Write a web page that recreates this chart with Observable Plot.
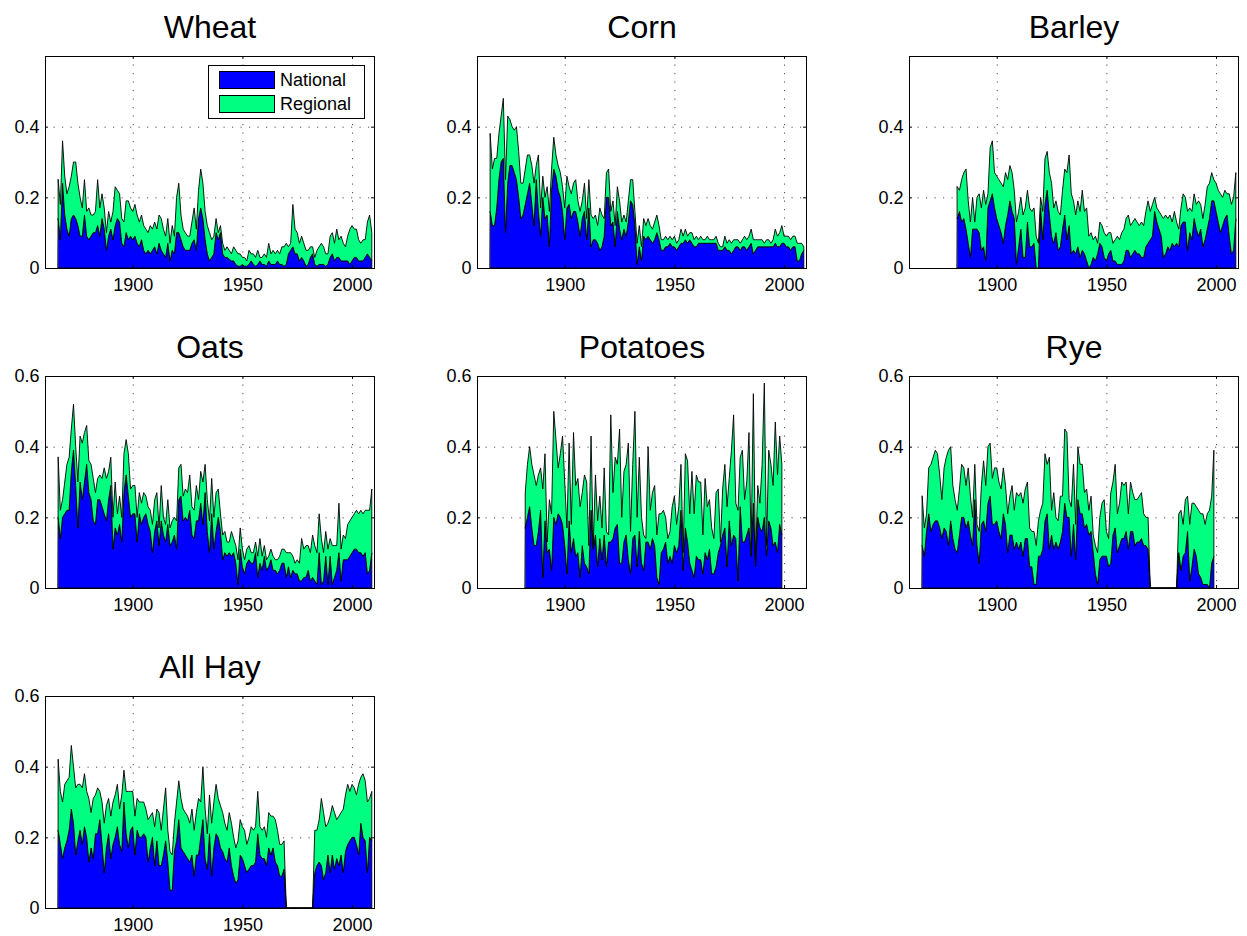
<!DOCTYPE html>
<html><head><meta charset="utf-8">
<script src="https://cdn.jsdelivr.net/npm/d3@7"></script>
<script src="https://cdn.jsdelivr.net/npm/@observablehq/plot@0.6"></script>
<style>
html,body{margin:0;padding:0;background:#fff;overflow:hidden;}
#chart{position:relative;width:1247px;height:936px;overflow:hidden;font-family:"Liberation Sans",Arial,Helvetica,sans-serif;}
.panel{position:absolute;}
.legend{position:absolute;background:#fff;border:1px solid #000;box-sizing:border-box;}
.legend .sw{position:absolute;border:1px solid #000;box-sizing:border-box;}
.legend .lb{position:absolute;font-size:18px;line-height:18px;color:#000;white-space:nowrap;}
</style></head>
<body><div id="chart"></div>
<script>
// ---------- series / categories ----------
const seriesNames = ["National", "Regional"];
const seriesColors = ["#0000ff", "#00ff80"];
const crops = ["Wheat", "Corn", "Barley", "Oats", "Potatoes", "Rye", "All Hay"];
const xTicks = [1900, 1950, 2000];
const yTicksTop = [0, 0.2, 0.4];
const yTicksLower = [0, 0.2, 0.4, 0.6];

// ---------- data ----------
const wheatStart = 1866;
const wheatNational = [
.14,.08,.24,.15,.11,.09,.14,.15,.14,.12,
.09,.09,.15,.09,.08,.09,.10,.10,.12,.09,
.14,.11,.05,.09,.11,.08,.12,.14,.13,.07,
.06,.10,.08,.09,.08,.09,.07,.06,.08,.05,
.04,.05,.04,.05,.06,.04,.07,.05,.04,.03,
.07,.02,.05,.04,.10,.10,.08,.06,.05,.05,
.05,.07,.08,.05,.14,.17,.14,.08,.04,.02,
.03,.04,.10,.08,.10,.04,.03,.03,.025,.02,
.02,.01,.005,.005,.01,.005,.005,.01,.02,.01,
.005,.01,.02,.01,.01,.005,.02,.01,.01,.01,
.02,.01,.01,.005,.01,.04,.05,.06,.04,.04,
.02,.03,.02,.005,.01,.03,.04,.01,.005,.01,
.01,.01,.005,.01,.03,.04,.02,.03,.03,.02,
.02,.02,.02,.01,.02,.03,.03,.02,.02,.02,
.03,.04,.03,.02];
const wheatRegional = [
.11,.10,.12,.11,.10,.14,.12,.15,.16,.12,
.11,.08,.10,.07,.09,.06,.05,.06,.13,.08,
.07,.06,.05,.07,.02,.08,.11,.08,.08,.07,
.07,.09,.11,.08,.08,.09,.08,.07,.07,.07,
.07,.05,.08,.06,.07,.07,.08,.09,.07,.06,
.07,.05,.07,.05,.10,.14,.07,.05,.05,.04,
.04,.06,.09,.06,.08,.11,.10,.08,.08,.08,
.05,.05,.04,.02,.02,.03,.02,.03,.025,.02,
.04,.04,.035,.035,.02,.025,.015,.04,.02,.03,
.025,.04,.01,.02,.03,.025,.05,.03,.04,.03,
.03,.03,.05,.055,.06,.02,.02,.12,.07,.06,
.05,.06,.05,.045,.04,.03,.02,.02,.045,.05,
.06,.05,.035,.03,.06,.06,.05,.08,.05,.07,
.05,.04,.07,.10,.10,.08,.08,.06,.05,.06,
.05,.09,.12,.08];

const cornStart = 1866;
const cornNational = [
.16,.12,.12,.17,.25,.30,.31,.10,.24,.29,
.29,.27,.25,.20,.14,.15,.18,.21,.24,.18,
.12,.25,.16,.09,.20,.14,.15,.06,.22,.28,
.26,.22,.20,.16,.08,.17,.18,.14,.16,.16,
.13,.09,.14,.16,.08,.17,.06,.08,.08,.07,
.05,.06,.09,.20,.20,.12,.13,.06,.16,.11,
.08,.11,.09,.13,.19,.18,.12,.01,.06,.02,
.09,.08,.09,.08,.07,.08,.10,.08,.05,.05,
.06,.06,.07,.06,.06,.05,.06,.07,.07,.08,
.07,.08,.07,.06,.06,.07,.07,.07,.07,.07,
.07,.07,.07,.07,.05,.05,.05,.06,.05,.05,
.04,.05,.06,.06,.05,.06,.06,.05,.06,.07,
.04,.05,.06,.06,.06,.06,.06,.06,.06,.06,
.07,.06,.06,.07,.07,.06,.06,.05,.06,.06,
.02,.02,.04,.05];
const cornRegional = [
.22,.16,.19,.14,.13,.13,.17,.15,.19,.13,
.11,.12,.15,.13,.10,.09,.10,.11,.08,.11,
.12,.04,.16,.08,.06,.06,.08,.10,.06,.09,
.06,.07,.07,.07,.09,.09,.05,.07,.08,.09,
.06,.07,.05,.08,.06,.08,.09,.06,.07,.05,
.12,.09,.05,.07,.08,.04,.06,.06,.07,.08,
.05,.04,.04,.06,.06,.07,.04,.06,.06,.04,
.05,.04,.05,.04,.04,.05,.05,.04,.03,.03,
.03,.02,.02,.02,.03,.02,.02,.04,.02,.03,
.02,.02,.03,.02,.03,.01,.02,.01,.01,.02,
.01,.01,.01,.02,.02,.01,.01,.03,.02,.03,
.03,.03,.02,.02,.02,.02,.03,.03,.03,.04,
.04,.03,.02,.02,.02,.01,.02,.02,.01,.02,
.04,.03,.04,.05,.02,.03,.03,.03,.03,.03,
.05,.05,.03,.01];

const barleyStart = 1882;
const barleyNational = [
.14,.16,.13,.14,.11,.07,.03,.11,.11,.11,
.10,.05,.06,.02,.17,.19,.21,.17,.14,.12,
.10,.07,.12,.15,.19,.16,.14,.01,.06,.11,
.03,.03,.13,.06,.06,.07,0,0,.17,.08,
.18,.22,.15,.09,.07,.10,.05,.06,.11,.15,
.08,.12,.04,.05,.04,.06,.03,.05,.04,.02,
0,.01,.03,.02,.04,.07,.06,.03,.02,.04,
.05,.02,.02,.01,.01,.01,.02,.05,.05,.03,
.04,.05,.04,.04,.03,.03,.06,.07,.08,.09,
.16,.13,.11,.09,.03,.04,.06,.05,.07,.06,
.07,.06,.12,.13,.13,.05,.10,.08,.14,.11,
.09,.11,.06,.08,.11,.14,.19,.19,.16,.13,
.10,.12,.14,.15,.09,.04,.05,.14];
const barleyRegional = [
.09,.06,.12,.13,.17,.12,.10,.09,.02,.09,
.11,.12,.16,.16,.04,.15,.15,.10,.12,.13,
.14,.16,.15,.10,.10,.11,.08,.12,.10,.09,
.12,.14,.09,.11,.10,.10,.09,.07,.03,.08,
.13,.11,.12,.15,.10,.09,.11,.09,.11,.13,
.19,.20,.17,.14,.11,.13,.13,.17,.12,.15,
.09,.09,.05,.07,.03,.06,.06,.07,.07,.06,
.05,.05,.06,.08,.07,.09,.09,.09,.10,.09,
.09,.09,.09,.08,.10,.09,.10,.12,.08,.09,
.04,.04,.05,.06,.11,.11,.08,.10,.06,.10,
.06,.05,.05,.08,.07,.11,.07,.08,.07,.07,
.10,.07,.08,.10,.12,.10,.08,.06,.08,.09,
.11,.08,.08,.06,.12,.14,.15,.13];

const oatsStart = 1866;
const oatsNational = [
.20,.14,.20,.21,.22,.22,.33,.39,.29,.17,
.30,.25,.30,.35,.27,.25,.19,.18,.25,.25,
.23,.21,.19,.25,.29,.11,.17,.15,.18,.13,
.27,.32,.26,.20,.21,.21,.13,.21,.18,.20,
.21,.18,.16,.10,.16,.19,.12,.19,.15,.13,
.18,.12,.13,.15,.11,.25,.26,.19,.20,.19,
.22,.15,.14,.19,.19,.24,.18,.27,.16,.10,
.21,.11,.16,.20,.16,.08,.10,.09,.10,.09,
.10,.07,.01,.11,.06,.04,.07,.08,.07,.07,
.10,.03,.07,.05,.09,.05,.06,.08,.05,.05,
.04,.05,.07,.07,.03,.06,.03,.05,.04,.04,
.02,.02,.03,.03,.05,.02,.03,.02,.01,.10,
.01,.02,.09,.01,.09,.01,.03,.05,.10,.02,
.08,.08,.08,.09,.10,.11,.11,.10,.10,.09,
.10,.04,.05,.10];
const oatsRegional = [
.17,.08,.05,.09,.13,.15,.12,.13,.11,.13,
.13,.16,.14,.11,.09,.10,.12,.09,.06,.07,
.08,.13,.12,.08,.08,.09,.13,.06,.08,.07,
.11,.10,.12,.08,.08,.08,.07,.06,.06,.07,
.05,.05,.06,.08,.09,.08,.05,.10,.05,.05,
.07,.05,.06,.05,.08,.09,.09,.07,.08,.08,
.10,.08,.08,.10,.06,.09,.12,.08,.09,.09,
.10,.09,.11,.08,.05,.07,.06,.04,.03,.07,
.04,.05,.07,.06,.05,.04,.04,.04,.03,.03,
.03,.06,.07,.04,.03,.03,.03,.03,.04,.03,
.04,.04,.04,.04,.07,.04,.07,.04,.03,.04,
.05,.12,.08,.09,.07,.08,.12,.10,.09,.11,
.13,.08,.07,.10,.05,.11,.09,.07,.14,.09,
.07,.06,.10,.10,.10,.10,.11,.11,.12,.12,
.12,.18,.17,.18];

const potatoesStart = 1882;
const potatoesNational = [
.17,.20,.23,.17,.12,.12,.16,.22,.03,.19,
.10,.11,.05,.20,.18,.21,.20,.18,.12,.04,
.19,.10,.14,.09,.10,.03,.12,.07,.06,.04,
.22,.11,.15,.06,.14,.08,.15,.06,.13,.13,
.14,.17,.18,.07,.07,.13,.15,.08,.04,.14,
.15,.06,.16,.07,.05,.13,.13,.11,.14,.12,
.03,.01,.10,.11,.13,.07,.09,.07,.12,.10,
.12,.22,.05,.17,.13,.07,.05,.03,.09,.08,
.08,.04,.10,.08,.11,.04,.04,.06,.10,.12,
.15,.17,.06,.19,.12,.15,.14,.02,.23,.13,
.13,.15,.17,.09,.24,.06,.20,.17,.16,.20,
.09,.19,.17,.12,.13,.10,.18,.15];
const potatoesRegional = [
.10,.15,.17,.18,.20,.17,.16,.12,.25,.19,
.03,.14,.16,.30,.24,.13,.18,.25,.18,.13,
.22,.08,.30,.20,.21,.20,.15,.25,.24,.08,
.21,.01,.17,.13,.12,.09,.19,.10,.02,.36,
.13,.20,.17,.38,.13,.20,.20,.33,.12,.21,
.35,.14,.21,.13,.10,.01,.27,.11,.13,.17,
.12,.20,.11,.11,.07,.07,.07,.16,.14,.08,
.11,.13,.05,.21,.23,.14,.28,.18,.23,.22,
.22,.11,.21,.15,.14,.13,.10,.21,.18,.01,
.13,.18,.17,.12,.27,.34,.10,.20,.14,.26,
.12,.15,.27,.03,.31,.02,.09,.07,.19,.38,
.03,.20,.18,.17,.34,.22,.25,.20];

const ryeStart = 1866;
const ryeNational = [
.12,.09,.16,.21,.16,.18,.19,.19,.17,.14,
.17,.16,.12,.19,.14,.11,.10,.15,.20,.20,
.17,.19,.15,.12,.25,.12,.07,.18,.19,.16,
.24,.26,.18,.18,.19,.16,.14,.21,.18,.10,
.15,.15,.11,.13,.11,.13,.09,.14,.14,.06,
.06,.01,.01,.09,.09,.11,.19,.21,.11,.15,
.11,.13,.11,.13,.16,.24,.20,.20,.09,.18,
.08,.25,.21,.21,.17,.18,.15,.16,.10,.04,
.01,.08,.09,.09,.09,.06,.07,.15,.17,.10,
.12,.14,.14,.16,.11,.16,.16,.12,.13,.13,
.14,.12,.12,.11,0,0,0,0,0,0,
0,0,0,0,0,0,0,.10,.05,.09,
.10,.16,.02,.06,.11,.09,.04,.03,.01,.01,
.01,0,.07,.09];
const ryeRegional = [
.14,.08,.05,.13,.19,.19,.20,.19,.15,.11,
.17,.21,.27,.21,.15,.14,.12,.13,.15,.14,
.12,.15,.11,.08,.10,.06,.09,.11,.17,.13,
.16,.15,.13,.16,.15,.14,.14,.13,.11,.11,
.11,.14,.11,.14,.15,.14,.15,.14,.16,.11,
.10,.15,.11,.10,.13,.13,.19,.14,.26,.07,
.16,.07,.08,.13,.10,.21,.24,.05,.14,.17,
.10,.15,.14,.14,.10,.10,.07,.10,.05,.08,
.09,.12,.15,.16,.07,.08,.20,.15,.18,.11,
.12,.16,.15,.14,.10,.14,.11,.13,.12,.13,
.13,.09,.08,.09,0,0,0,0,0,0,
0,0,0,0,0,0,0,.11,.17,.09,
.15,.10,.16,.18,.13,.14,.18,.18,.20,.17,
.20,.22,.19,.30];

const hayStart = 1866;
const hayNational = [
.22,.18,.14,.17,.19,.22,.28,.24,.15,.19,
.22,.18,.23,.20,.13,.17,.14,.21,.21,.25,
.18,.10,.17,.21,.14,.18,.20,.23,.18,.16,
.30,.21,.17,.22,.23,.15,.22,.20,.20,.21,
.20,.13,.17,.20,.12,.19,.12,.12,.15,.19,
.13,.05,.05,.16,.19,.25,.17,.16,.15,.14,
.13,.15,.09,.15,.15,.20,.25,.14,.11,.21,
.09,.17,.21,.20,.17,.16,.14,.13,.17,.12,
.09,.07,.08,.15,.14,.12,.10,.11,.12,.12,
.13,.21,.15,.14,.14,.12,.17,.15,.17,.13,
.12,.09,.09,.11,0,0,0,0,0,0,
0,0,0,0,0,0,0,.10,.12,.13,
.12,.08,.10,.15,.10,.15,.11,.14,.12,.15,
.10,.16,.18,.19,.20,.20,.18,.15,.24,.20,
.19,.10,.20,.19];
const hayRegional = [
.20,.15,.16,.18,.17,.15,.18,.16,.19,.16,
.13,.16,.15,.13,.18,.10,.17,.11,.13,.08,
.12,.14,.12,.10,.12,.12,.12,.12,.10,.16,
.09,.12,.16,.11,.10,.11,.09,.10,.10,.09,
.08,.12,.09,.07,.11,.09,.15,.10,.13,.15,
.09,.11,.10,.08,.11,.11,.14,.12,.12,.12,
.11,.13,.13,.12,.16,.10,.15,.14,.10,.11,
.15,.13,.14,.11,.12,.11,.10,.09,.10,.12,
.11,.10,.11,.10,.09,.10,.08,.09,.11,.10,
.10,.12,.08,.08,.09,.08,.10,.11,.09,.12,
.10,.09,.09,.08,0,0,0,0,0,0,
0,0,0,0,0,0,0,.12,.10,.12,
.19,.19,.13,.09,.16,.14,.16,.11,.14,.12,
.18,.16,.17,.14,.15,.14,.14,.20,.13,.18,
.17,.20,.11,.14];

// ---------- layout ----------
const panels = [
  {title: crops[0], start: wheatStart, nat: wheatNational, reg: wheatRegional, col: 0, row: 0},
  {title: crops[1], start: cornStart, nat: cornNational, reg: cornRegional, col: 1, row: 0},
  {title: crops[2], start: barleyStart, nat: barleyNational, reg: barleyRegional, col: 2, row: 0},
  {title: crops[3], start: oatsStart, nat: oatsNational, reg: oatsRegional, col: 0, row: 1},
  {title: crops[4], start: potatoesStart, nat: potatoesNational, reg: potatoesRegional, col: 1, row: 1},
  {title: crops[5], start: ryeStart, nat: ryeNational, reg: ryeRegional, col: 2, row: 1},
  {title: crops[6], start: hayStart, nat: hayNational, reg: hayRegional, col: 0, row: 2}
];
const axesLeft = [45, 477, 909];
const axesTop = [56, 376, 696];
const W = 329, H = 212;
const mL = 45, mR = 10, mT = 56, mB = 40;
const FONT = '"Liberation Sans", Arial, Helvetica, sans-serif';

function toRows(p) {
  const out = [];
  p.nat.forEach((v, i) => out.push({year: p.start + i, series: seriesNames[0], value: v}));
  p.reg.forEach((v, i) => out.push({year: p.start + i, series: seriesNames[1], value: v}));
  return out;
}

const chart = document.getElementById("chart");
const dotted = {stroke: "#000", strokeOpacity: 0.7, strokeWidth: 1, strokeDasharray: "1.2,7.3"};

panels.forEach(p => {
  const yTicks = p.row === 0 ? yTicksTop : yTicksLower;
  const svg = Plot.plot({
    width: mL + W + mR,
    height: mT + H + mB,
    marginLeft: mL, marginRight: mR, marginTop: mT, marginBottom: mB,
    x: {domain: [1860, 2010]},
    y: {domain: [0, 0.6]},
    color: {domain: seriesNames, range: seriesColors},
    style: {fontFamily: FONT, fontSize: "18px", color: "#000", background: "transparent", overflow: "visible"},
    marks: [
      Plot.gridX({ticks: xTicks, ...dotted}),
      Plot.gridY({ticks: yTicks, ...dotted}),
      Plot.areaY(toRows(p), {x: "year", y: "value", z: "series", fill: "series",
        stroke: "#000", strokeWidth: 0.9, fillOpacity: 1, strokeOpacity: 1}),
      Plot.ruleX(xTicks, {insetTop: H - 3, stroke: "#000"}),
      Plot.ruleX(xTicks, {insetBottom: H - 3, stroke: "#000"}),
      Plot.ruleY(yTicks, {insetRight: W - 3, stroke: "#000"}),
      Plot.ruleY(yTicks, {insetLeft: W - 3, stroke: "#000"}),
      Plot.frame({stroke: "#000", strokeWidth: 1}),
      Plot.axisX({ticks: xTicks, tickSize: 0, tickPadding: 10, fontSize: 18, label: null,
        tickFormat: d => String(d)}),
      Plot.axisY({ticks: yTicks, tickSize: 0, tickPadding: 6, fontSize: 18, label: null,
        tickFormat: d => d === 0 ? "0" : d.toFixed(1)}),
      Plot.text([p.title], {frameAnchor: "top", lineAnchor: "top", dy: -41, fontSize: 32, text: d => d, fill: "#000"})
    ]
  });
  svg.classList.add("panel");
  svg.style.left = (axesLeft[p.col] - mL) + "px";
  svg.style.top = (axesTop[p.row] - mT) + "px";
  chart.appendChild(svg);
});

// legend (inside the Wheat panel, top right)
const lg = document.createElement("div");
lg.className = "legend";
Object.assign(lg.style, {left: "208px", top: "65px", width: "157px", height: "54px"});
seriesNames.forEach((name, i) => {
  const sw = document.createElement("div");
  sw.className = "sw";
  Object.assign(sw.style, {left: "10px", top: (5 + i * 24) + "px", width: "56px", height: "18px", background: seriesColors[i]});
  lg.appendChild(sw);
  const lb = document.createElement("div");
  lb.className = "lb";
  Object.assign(lb.style, {left: "71px", top: (5 + i * 24) + "px"});
  lb.textContent = name;
  lg.appendChild(lb);
});
chart.appendChild(lg);
</script>
</body></html>
